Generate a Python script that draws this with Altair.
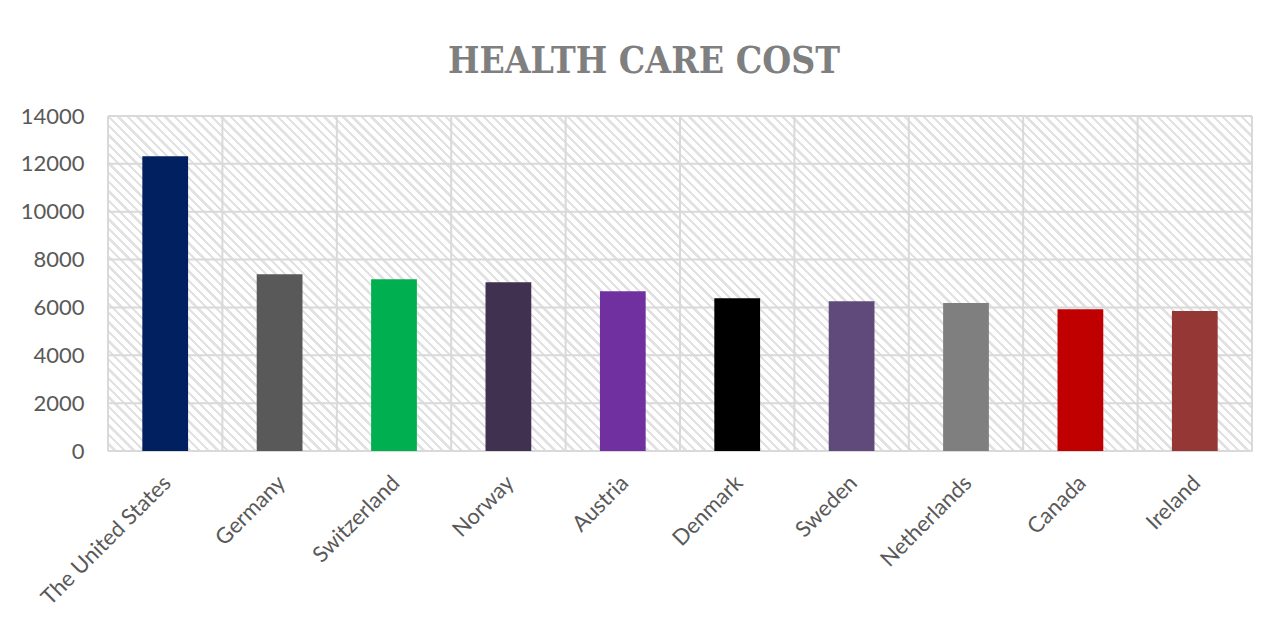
import math
import altair as alt
import pandas as pd

# ---- data ----
countries = ["The United States", "Germany", "Switzerland", "Norway", "Austria",
             "Denmark", "Sweden", "Netherlands", "Canada", "Ireland"]
costs = [12318, 7390, 7182, 7056, 6681, 6388, 6263, 6180, 5929, 5846]
bar_colors = ["#002060", "#595959", "#00B050", "#403151", "#7030A0",
              "#000000", "#604A7B", "#7F7F7F", "#C00000", "#953735"]
y_ticks = [0, 2000, 4000, 6000, 8000, 10000, 12000, 14000]
y_domain = [0, 14000]

W, H = 1144, 335
GRID = "#d9d9d9"
LABEL = "#595959"
FONT = "Lato"

df = pd.DataFrame({"country": countries, "cost": costs, "color": bar_colors})
ticks_df = pd.DataFrame({"v": y_ticks})
bg_df = pd.DataFrame({"lo": [y_domain[0]], "hi": [y_domain[1]]})
last_df = pd.DataFrame({"country": [countries[-1]]})

# ---- diagonal hatch as a striped linear gradient (style only) ----
r = H / W
k = (1 + r) / (1 + r * r)
period = 6.6
n = int(round((W + H) / math.sqrt(2) / period))
stops = []
for i in range(n):
    a = i / n
    m = (i + 0.64) / n
    b = (i + 1) / n
    stops += [{"offset": a, "color": "#ffffff"}, {"offset": m, "color": "#ffffff"},
              {"offset": m, "color": "#e2e2e2"}, {"offset": b, "color": "#e2e2e2"}]
hatch = {"gradient": "linear", "x1": 0, "y1": 1, "x2": k, "y2": 1 - k * r, "stops": stops}

yscale = alt.Scale(domain=y_domain, nice=False, zero=True)
xscale = alt.Scale(paddingInner=0, paddingOuter=0)

y_axis = alt.Axis(values=y_ticks, format="d", domain=False, ticks=False, grid=False,
                  labelPadding=24, labelFont=FONT, labelFontSize=22,
                  labelColor=LABEL, title=None)
x_axis = alt.Axis(labelAngle=-45, labelAlign="right", labelBaseline="middle",
                  labelPadding=28, labelOffset=2, domain=False, ticks=False,
                  grid=False, labelFont=FONT, labelFontSize=22,
                  labelColor=LABEL, title=None)

background = alt.Chart(bg_df).mark_rect(color=hatch).encode(
    y=alt.Y("lo:Q", scale=yscale, axis=y_axis, title=None), y2="hi:Q")

hgrid = alt.Chart(ticks_df).mark_rule(color=GRID, strokeWidth=2).encode(
    y=alt.Y("v:Q", scale=yscale, axis=y_axis, title=None))

vgrid = alt.Chart(df).mark_rule(color=GRID, strokeWidth=2).encode(
    x=alt.X("country:N", sort=countries, bandPosition=0, scale=xscale,
            axis=x_axis, title=None))

vgrid_end = alt.Chart(last_df).mark_rule(color=GRID, strokeWidth=2).encode(
    x=alt.X("country:N", sort=countries, bandPosition=1, scale=xscale,
            axis=x_axis, title=None))

bars = alt.Chart(df).mark_bar(width={"band": 0.4}).encode(
    x=alt.X("country:N", sort=countries, scale=xscale, axis=x_axis, title=None),
    y=alt.Y("cost:Q", scale=yscale, axis=y_axis, title=None),
    color=alt.Color("color:N", scale=None, legend=None),
)

chart = alt.layer(background, hgrid, vgrid, vgrid_end, bars).properties(
    width=W, height=H,
    title=alt.TitleParams("HEALTH CARE COST", font="DejaVu Serif Condensed",
                          fontSize=37, fontWeight="bold", color="#7f7f7f",
                          anchor="middle", frame="group", dx=-36, dy=37, offset=32,
                          baseline="alphabetic"),
    autosize=alt.AutoSizeParams(type="none"),
    padding={"left": 100, "top": 108, "right": 8, "bottom": 160},
).configure_view(stroke=None).configure(background="white")

chart.save("out.html", embed_options={"renderer": "svg", "actions": False})
